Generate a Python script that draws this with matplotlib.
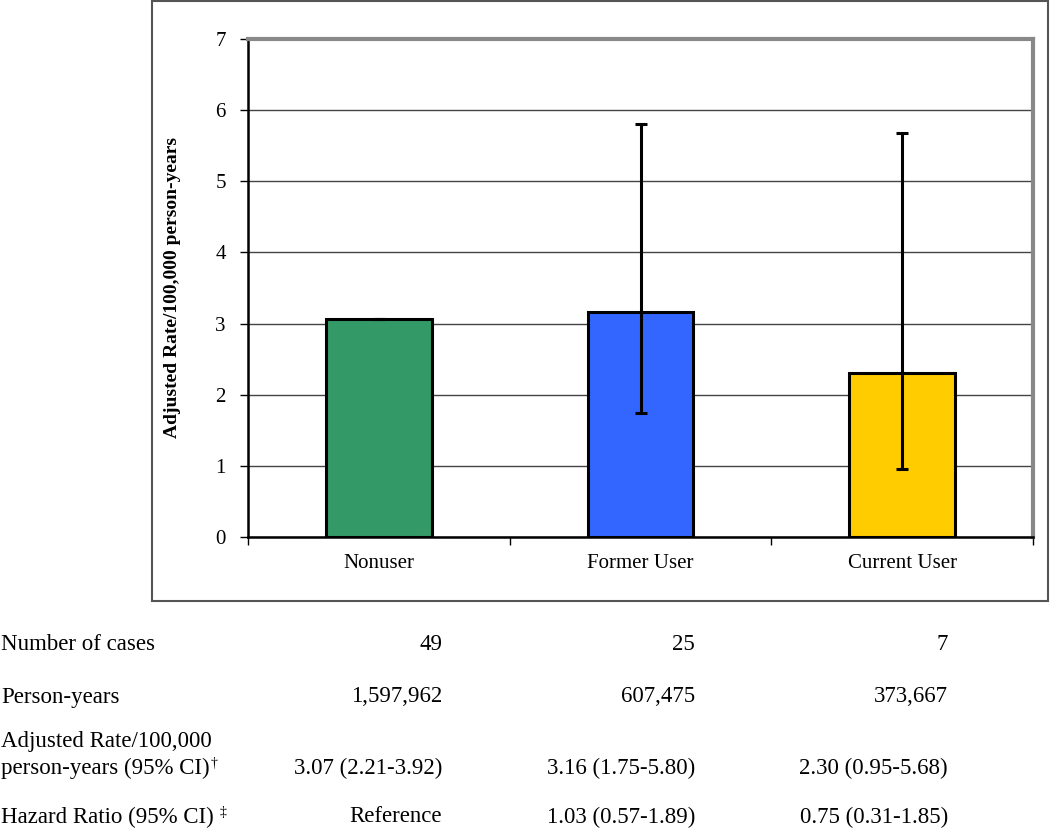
import numpy as np
import matplotlib
matplotlib.use("Agg")
import matplotlib.pyplot as plt
from matplotlib.patches import Rectangle

plt.rcParams['font.family'] = ['Liberation Serif', 'DejaVu Serif']

# chart data
groups = ['Nonuser', 'Former User', 'Current User']
rates = [3.07, 3.16, 2.30]
ci_low = [np.nan, 1.75, 0.95]
ci_high = [np.nan, 5.80, 5.68]
bar_colors = ['#339966', '#3366FF', '#FFCC00']
y_ticks = [0, 1, 2, 3, 4, 5, 6, 7]

# table under the chart
row_labels = ['Number of cases', 'Person-years', 'Adjusted Rate/100,000',
              'person-years (95% CI)', 'Hazard Ratio (95% CI)']
row_marks = ['', '', '', '\u2020', '\u2021']
cases = ['49', '25', '7']
person_years = ['1,597,962', '607,475', '373,667']
adj_rate = ['3.07 (2.21-3.92)', '3.16 (1.75-5.80)', '2.30 (0.95-5.68)']
hazard = ['Reference', '1.03 (0.57-1.89)', '0.75 (0.31-1.85)']

W, H = 1050, 831
fig = plt.figure(figsize=(W / 100, H / 100), dpi=100)

# outer chart-area frame
fig.patches.append(Rectangle((152 / W, 1 - 601 / H), (1048 - 152) / W, (601 - 1) / H,
                             transform=fig.transFigure, fill=False,
                             edgecolor='#555555', linewidth=1.5))

ax = fig.add_axes([248 / W, 1 - 537 / H, (1033 - 248) / W, (537 - 39) / H])

x = np.arange(len(groups))
ax.bar(x, rates, width=0.405, color=bar_colors, edgecolor='black', linewidth=2.2, zorder=3)

yerr = np.array([np.array(rates) - np.array(ci_low), np.array(ci_high) - np.array(rates)])
ax.errorbar(x, rates, yerr=np.nan_to_num(yerr), fmt='none', ecolor='black',
            elinewidth=2.2, capsize=4, capthick=2.2, zorder=4)

ax.set_xlim(-0.5, 2.5)
ax.set_ylim(0, 7)
ax.set_yticks(y_ticks)
ax.set_yticklabels([str(t) for t in y_ticks], fontsize=15)
ax.yaxis.grid(True, color='#444444', linewidth=1.0, zorder=0)
ax.set_axisbelow(True)

ax.set_xticks([-0.5, 0.5, 1.5, 2.5])
ax.set_xticklabels([])
ax.set_xticks(x, minor=True)
ax.set_xticklabels(groups, minor=True, fontsize=15)
ax.tick_params(axis='x', which='minor', length=0, pad=12)
ax.tick_params(axis='x', which='major', length=6, width=1, direction='out')
ax.tick_params(axis='y', length=6, width=1, direction='out', pad=10)

ax.spines['left'].set_linewidth(1.8)
ax.spines['bottom'].set_linewidth(1.8)
for s in ['top', 'right']:
    ax.spines[s].set_color('#888888')
    ax.spines[s].set_linewidth(3)

ax.set_ylabel('Adjusted Rate/100,000 person-years', fontsize=14, fontweight='bold')
ax.yaxis.set_label_coords(-0.085, 0.5)

# table rows
val_x = [442 / W, 695 / W, 948 / W]
rows = [(644, cases), (697, person_years), (768, adj_rate), (817, hazard)]
label_y = [644, 697, 741, 768, 817]
labels = []
for lab, ly in zip(row_labels, label_y):
    labels.append(fig.text(1 / W, 1 - ly / H, lab, fontsize=16.5, ha='left', va='center'))
for ry, vals in rows:
    for vx, v in zip(val_x, vals):
        fig.text(vx, 1 - ry / H, v, fontsize=16.5, ha='right', va='center')

# footnote marks right after their labels, raised like superscripts
fig.canvas.draw()
for t, mark, ly in zip(labels, row_marks, label_y):
    if mark:
        gap = 1 if mark == '\u2020' else 6
        bb = t.get_window_extent()
        fig.text((bb.x1 + gap) / W, 1 - (ly - 1) / H, mark, fontsize=10,
                 ha='left', va='baseline')

fig.savefig('out.png', dpi=100)
